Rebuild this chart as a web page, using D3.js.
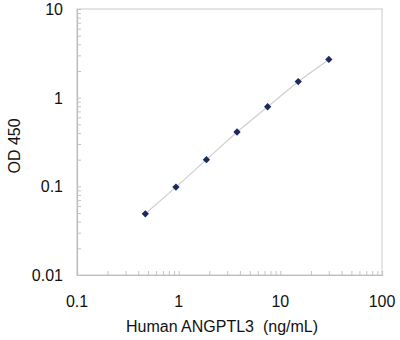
<!DOCTYPE html>
<html>
<head>
<meta charset="utf-8">
<script src="https://cdn.jsdelivr.net/npm/d3@7"></script>
<style>
  html, body { margin: 0; padding: 0; background: #fff; }
  svg { display: block; font-family: "Liberation Sans", Arial, sans-serif; }
</style>
</head>
<body>
<svg id="chart" width="400" height="340"></svg>
<script>
// Standard curve: concentration (ng/mL) vs OD 450
const concentration = [0.47, 0.94, 1.875, 3.75, 7.5, 15, 30];
const od450 = [0.049, 0.098, 0.20, 0.41, 0.79, 1.52, 2.70];
const xTickLabels = ["0.1", "1", "10", "100"];
const yTickLabels = ["0.01", "0.1", "1", "10"];
const xTitle = "Human ANGPTL3  (ng/mL)";
const yTitle = "OD 450";

const margin = { left: 77, right: 18, top: 9, bottom: 65 };
const W = 400, H = 340;
const svg = d3.select("#chart");

const x = d3.scaleLog().domain([0.1, 100]).range([margin.left, W - margin.right]);
const y = d3.scaleLog().domain([0.01, 10]).range([H - margin.bottom, margin.top]);

// Plot frame: light top/right edges, darker axis lines
svg.append("rect")
  .attr("x", x.range()[0]).attr("y", y.range()[1])
  .attr("width", x.range()[1] - x.range()[0])
  .attr("height", y.range()[0] - y.range()[1])
  .attr("fill", "none").attr("stroke", "#dcdcdc").attr("stroke-width", 1.5);

// Minor/major ticks at every 1..9 multiple, pointing inward
const xTicks = x.ticks();
const yTicks = y.ticks();
const xAxis = d3.axisBottom(x).tickValues(xTicks).tickSize(-4).tickFormat("");
const yAxis = d3.axisLeft(y).tickValues(yTicks).tickSize(-4).tickFormat("");

const gx = svg.append("g").attr("transform", `translate(0,${y.range()[0]})`).call(xAxis);
const gy = svg.append("g").attr("transform", `translate(${x.range()[0]},0)`).call(yAxis);
[gx, gy].forEach(g => {
  g.select(".domain").attr("stroke", "#bdbdbd").attr("stroke-width", 1.2);
  g.selectAll(".tick line").attr("stroke", "#c4c4c4");
});

// Decade labels
const xDecades = xTickLabels.map(Number);
const yDecades = yTickLabels.map(Number);
svg.append("g").selectAll("text").data(xDecades).join("text")
  .attr("x", d => x(d)).attr("y", 307)
  .attr("text-anchor", "middle").attr("font-size", 16).attr("fill", "#111")
  .text((d, i) => xTickLabels[i]);
svg.append("g").selectAll("text").data(yDecades).join("text")
  .attr("x", 63).attr("y", d => y(d) + 6)
  .attr("text-anchor", "end").attr("font-size", 16).attr("fill", "#111")
  .text((d, i) => yTickLabels[i]);

// Axis titles
svg.append("text").attr("x", 222).attr("y", 332)
  .attr("text-anchor", "middle").attr("font-size", 16).attr("fill", "#111")
  .attr("xml:space", "preserve").style("white-space", "pre")
  .text(xTitle);
svg.append("text")
  .attr("transform", `translate(20,${(y.range()[0] + y.range()[1]) / 2 + 4}) rotate(-90)`)
  .attr("text-anchor", "middle").attr("font-size", 16).attr("fill", "#111")
  .text(yTitle);

// Connecting line and markers
const pts = concentration.map((c, i) => [c, od450[i]]);
svg.append("path").datum(pts)
  .attr("fill", "none").attr("stroke", "#cfcfcf").attr("stroke-width", 1.2)
  .attr("d", d3.line().x(d => x(d[0])).y(d => y(d[1])));

svg.append("g").selectAll("path").data(pts).join("path")
  .attr("transform", d => `translate(${x(d[0])},${y(d[1])})`)
  .attr("d", d3.symbol().type(d3.symbolDiamond2).size(34))
  .attr("fill", "#1a2a5e");
</script>
</body>
</html>
